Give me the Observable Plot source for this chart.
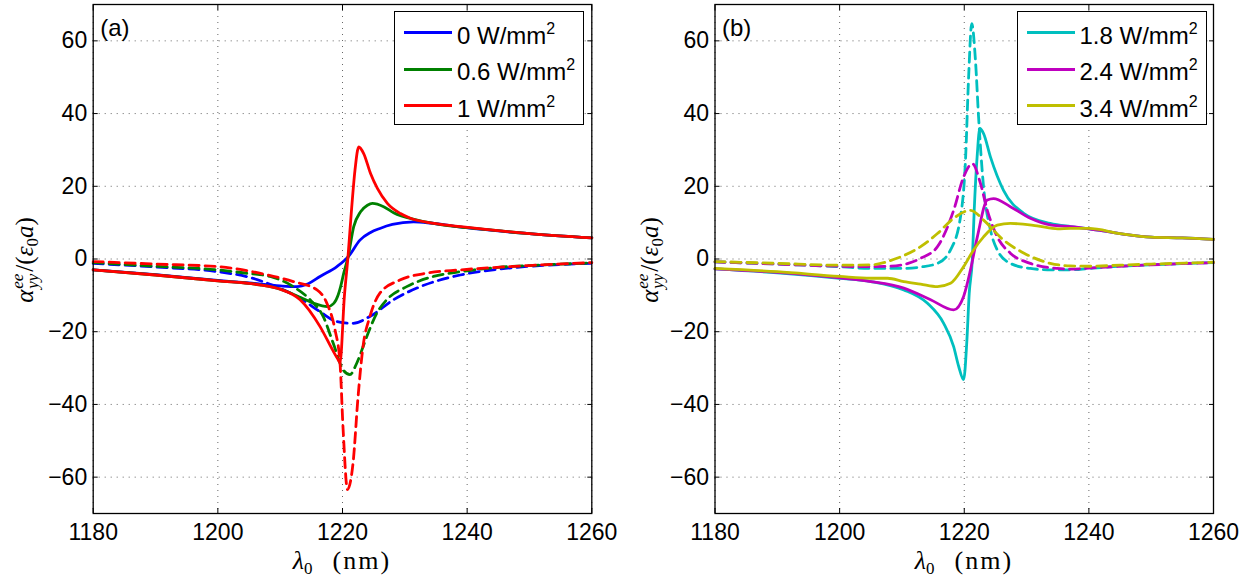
<!DOCTYPE html>
<html><head><meta charset="utf-8">
<script src="https://cdn.jsdelivr.net/npm/d3@7"></script>
<script src="https://cdn.jsdelivr.net/npm/@observablehq/plot@0.6"></script>
<style>
body{margin:0;background:#fff;}
#wrap{position:relative;width:1255px;height:579px;overflow:hidden;background:#fff;font-family:"Liberation Sans",Arial,sans-serif;color:#000;}
.pl{position:absolute;top:0;}
.legend{position:absolute;border:1.3px solid #000;background:#fff;box-sizing:border-box;width:190px;height:114px;top:11px;}
.row{position:absolute;left:0;display:flex;align-items:center;height:30px;}
.sw{display:inline-block;width:48px;height:3px;margin-left:9px;margin-right:5px;}
.lt{font-size:24px;line-height:24px;white-space:nowrap;position:relative;top:3px;}
.lt sup{font-size:16px;vertical-align:10px;line-height:0;}
.xlab{position:absolute;top:552px;font-family:"Liberation Serif",serif;font-size:26px;line-height:18px;transform:translateX(-50%);white-space:nowrap;}
.xlab sub{font-size:17px;line-height:0;vertical-align:-5px;font-style:normal;}
.xlab .gap{display:inline-block;width:20px;}
.xlab .nm{letter-spacing:2px;}
.ylab{position:absolute;font-family:"Liberation Serif",serif;font-size:25px;line-height:25px;transform:translate(-50%,-50%) rotate(-90deg);white-space:nowrap;}
.ylab .ss{display:inline-flex;flex-direction:column;font-size:17px;line-height:15px;vertical-align:10px;margin-left:1px;margin-right:2px;}
.ylab sub{font-size:17px;line-height:0;vertical-align:-5px;}
</style>
</head><body>
<div id="wrap"></div>
<script>
// ---------- axes ----------
const xTicks = [1180, 1200, 1220, 1240, 1260];
const yTicks = [-60, -40, -20, 0, 20, 40, 60];

// ---------- panel (a) ----------
const legendA = ["0", "0.6", "1"];

const a0SolidX = [1180, 1190, 1200, 1205, 1210, 1212.6, 1214.5, 1216.4, 1219.1, 1221, 1222.8, 1224.5, 1226, 1228, 1231.4, 1234, 1238, 1242, 1250, 1260];
const a0SolidY = [-3.0, -4.3, -5.9, -6.6, -7.4, -7.6, -6.8, -4.8, -2.1, 0.8, 5.2, 7.3, 8.4, 9.5, 10.2, 9.9, 9.0, 8.2, 7.0, 5.8];
const a0DashX = [1180, 1190, 1200, 1205, 1209, 1213.2, 1216.4, 1219.1, 1221.7, 1224.4, 1228.2, 1232.5, 1238.9, 1245, 1250, 1260];
const a0DashY = [-1.2, -2.2, -3.5, -5.0, -7.4, -10.8, -14.5, -17.2, -17.7, -15.8, -11.2, -7.6, -4.4, -2.8, -2.0, -1.2];

const a06SolidX = [1180, 1190, 1200, 1206.7, 1210, 1213.3, 1215.4, 1217.6, 1218.6, 1219.3, 1219.7, 1220.2, 1220.9, 1221.8, 1222.9, 1224.0, 1224.8, 1226.6, 1228.2, 1232, 1236, 1240, 1250, 1260];
const a06SolidY = [-3.0, -4.4, -6.0, -7.1, -8.3, -10.6, -12.2, -13.1, -12.2, -9.9, -7.6, -3.9, 0.6, 8.9, 13.0, 14.8, 15.3, 14.4, 12.7, 10.7, 9.4, 8.6, 7.0, 5.8];
const a06DashX = [1180, 1190, 1200, 1205, 1208.4, 1212.1, 1214.8, 1216.9, 1218.5, 1220.1, 1221.2, 1222.3, 1223.9, 1225.5, 1227.1, 1230.3, 1234.6, 1238.9, 1245, 1250, 1260];
const a06DashY = [-1.0, -2.0, -3.0, -4.0, -4.8, -7.6, -11.2, -15.8, -23.1, -30.5, -31.8, -28.6, -21.3, -14.9, -11.2, -7.6, -4.8, -3.5, -2.3, -1.8, -1.1];

const a1SolidX = [1180, 1190, 1200, 1206.7, 1210, 1213.2, 1216.4, 1218.4, 1219.2, 1219.6, 1220.3, 1220.9, 1221.4, 1222.0, 1222.6, 1223.4, 1224.5, 1225.6, 1227.2, 1229.3, 1230.9, 1234.7, 1239, 1250, 1260];
const a1SolidY = [-3.0, -4.4, -6.0, -7.1, -8.3, -11.2, -18.6, -25.0, -27.4, -28.5, -10.3, 1.0, 12.5, 24.4, 30.8, 29.0, 23.5, 19.4, 15.3, 12.5, 11.2, 9.8, 8.9, 7.0, 5.8];
const a1DashX = [1180, 1190, 1200, 1206.7, 1212.1, 1215.9, 1217.5, 1218.8, 1219.6, 1220.1, 1220.8, 1221.7, 1222.5, 1223.3, 1224.4, 1226, 1229.2, 1233.5, 1238.9, 1250, 1260];
const a1DashY = [-0.7, -1.4, -2.1, -3.9, -6.2, -8.5, -12.2, -19.5, -28.6, -46.9, -63.4, -56.0, -37.8, -24.0, -15.8, -9.4, -5.8, -3.9, -3.0, -1.8, -1.0];

// ---------- panel (b) ----------
const legendB = ["1.8", "2.4", "3.4"];

const b18SolidX = [1180, 1190, 1200, 1205, 1210.3, 1214.1, 1216.7, 1218.3, 1219.1, 1219.9, 1220.4, 1220.8, 1221.3, 1221.6, 1222.1, 1222.5, 1223.1, 1224.2, 1226.3, 1229.6, 1233.8, 1237.1, 1240, 1245, 1250, 1255, 1260];
const b18SolidY = [-2.7, -3.8, -5.3, -6.2, -8.5, -12.2, -17.7, -24.1, -29.5, -33.2, -23.1, -9.4, 0.0, 13.4, 29.0, 35.9, 34.5, 28.1, 18.9, 12.5, 9.8, 8.9, 8.3, 7.0, 6.0, 5.8, 5.4];
const b18DashX = [1180, 1190, 1200, 1205, 1210.3, 1213, 1215.7, 1217.8, 1219.4, 1220.2, 1220.7, 1221.2, 1221.8, 1222.3, 1223.1, 1224.2, 1225.3, 1227.4, 1230.6, 1234, 1237, 1240, 1245, 1250, 1260];
const b18DashY = [-0.8, -1.4, -2.1, -2.6, -2.6, -2.2, -1.2, 2.5, 11.6, 27.2, 50.0, 64.7, 54.6, 39.0, 19.8, 8.0, 2.5, -1.2, -2.6, -3.0, -3.0, -2.6, -2.0, -1.6, -1.0];

const b24SolidX = [1180, 1190, 1200, 1205, 1210.3, 1214.6, 1218.3, 1219.9, 1221, 1222.1, 1223.7, 1224.7, 1227.4, 1230.6, 1234, 1237.1, 1240, 1245, 1250, 1255, 1260];
const b24SolidY = [-2.7, -3.7, -5.2, -6.2, -8.0, -11.2, -14.0, -10.3, -3.0, 6.1, 16.2, 16.6, 14.4, 11.2, 9.3, 8.9, 8.3, 7.0, 6.0, 5.8, 5.4];
const b24DashX = [1180, 1190, 1200, 1205, 1208, 1211, 1213, 1215.7, 1218.3, 1219.9, 1221.3, 1222.6, 1223.7, 1225.3, 1227.4, 1230.6, 1234.9, 1237, 1240, 1245, 1250, 1260];
const b24DashY = [-0.8, -1.4, -2.0, -2.1, -2.0, -1.2, 0.2, 3.4, 13.4, 22.6, 26.2, 20.8, 13.4, 6.1, 1.6, -1.2, -2.6, -2.8, -2.5, -2.0, -1.6, -1.0];

const b34SolidX = [1180, 1190, 1200, 1205, 1207.7, 1210.3, 1213, 1215.7, 1217.8, 1219.9, 1221.5, 1223.1, 1225.3, 1227.4, 1231.7, 1235, 1237, 1240, 1245, 1250, 1255, 1260];
const b34SolidY = [-2.6, -3.5, -4.8, -5.3, -5.3, -6.2, -6.9, -7.6, -6.7, -2.1, 2.5, 6.1, 9.3, 9.8, 9.1, 8.3, 8.4, 8.4, 7.0, 6.0, 5.8, 5.4];
const b34DashX = [1180, 1190, 1200, 1205, 1209.2, 1213, 1215.7, 1218.3, 1221, 1223.1, 1226.3, 1229.6, 1233.8, 1237, 1240, 1245, 1250, 1260];
const b34DashY = [-0.7, -1.2, -1.7, -1.6, 0.2, 3.4, 7.0, 11.2, 13.4, 10.7, 5.2, 1.6, -1.2, -1.9, -2.0, -1.7, -1.4, -0.9];

// ---------- styles ----------
const colorsA = ["#0000ff", "#008000", "#ff0000"];
const colorsB = ["#00bfbf", "#bf00bf", "#bfbf00"];
const seriesA = [[a0SolidX, a0SolidY, a0DashX, a0DashY], [a06SolidX, a06SolidY, a06DashX, a06DashY], [a1SolidX, a1SolidY, a1DashX, a1DashY]];
const seriesB = [[b18SolidX, b18SolidY, b18DashX, b18DashY], [b24SolidX, b24SolidY, b24DashX, b24DashY], [b34SolidX, b34SolidY, b34DashX, b34DashY]];

const fmt = d => d < 0 ? "\u2212" + Math.abs(d) : String(d);
const rows = (xs, ys) => xs.map((x, i) => ({x, y: ys[i]}));

function panel(series, colors, tag, width, marginLeft, marginRight) {
  const gridStyle = {stroke: "#000", strokeOpacity: 0.6, strokeWidth: 1, strokeDasharray: "1,5"};
  const lines = [];
  series.forEach((s, i) => {
    lines.push(Plot.line(rows(s[0], s[1]), {x: "x", y: "y", stroke: colors[i], strokeWidth: 2.8, curve: "monotone-x"}));
    lines.push(Plot.line(rows(s[2], s[3]), {x: "x", y: "y", stroke: colors[i], strokeWidth: 2.8, strokeDasharray: "10,6", curve: "monotone-x"}));
  });
  return Plot.plot({
    width, height: 579,
    marginLeft, marginRight, marginTop: 4, marginBottom: 66,
    x: {domain: [1180, 1260]},
    y: {domain: [-70, 70]},
    style: {fontFamily: '"Liberation Sans", Arial, sans-serif', fontSize: "23px", color: "#000", background: "transparent", overflow: "visible"},
    marks: [
      Plot.gridX(xTicks, gridStyle),
      Plot.gridY(yTicks, gridStyle),
      ...lines,
      Plot.axisX(xTicks, {anchor: "bottom", tickSize: 0, tickPadding: 10, tickFormat: fmt, label: null, fontSize: 23}),
      Plot.axisX(xTicks, {anchor: "bottom", tickSize: -5, tickFormat: () => "", label: null}),
      Plot.axisX(xTicks, {anchor: "top", tickSize: -5, tickFormat: () => "", label: null}),
      Plot.axisY(yTicks, {anchor: "left", tickSize: 0, tickPadding: 6, tickFormat: fmt, label: null, fontSize: 23}),
      Plot.axisY(yTicks, {anchor: "left", tickSize: -5, tickFormat: () => "", label: null}),
      Plot.axisY(yTicks, {anchor: "right", tickSize: -5, tickFormat: () => "", label: null}),
      Plot.frame({stroke: "#000", strokeWidth: 1.3}),
      Plot.text([tag], {frameAnchor: "top-left", dx: 7, dy: 14, textAnchor: "start", lineAnchor: "top", fontSize: 24, fill: "#000"})
    ]
  });
}

const wrap = document.getElementById("wrap");

function place(node, left) {
  node.classList.add("pl");
  node.style.left = left + "px";
  wrap.appendChild(node);
}
place(panel(seriesA, colorsA, "(a)", 620, 92.7, 28.7), 0);
place(panel(seriesB, colorsB, "(b)", 635, 94.5, 42), 620);

function legend(labels, colors, left) {
  const box = document.createElement("div");
  box.className = "legend";
  box.style.left = left + "px";
  labels.forEach((lab, i) => {
    const r = document.createElement("div");
    r.className = "row";
    r.style.top = (5.5 + i * 36.5) + "px";
    r.innerHTML = `<span class="sw" style="background:${colors[i]}"></span><span class="lt">${lab} W/mm<sup>2</sup></span>`;
    box.appendChild(r);
  });
  wrap.appendChild(box);
}
legend(legendA, colorsA, 394);
legend(legendB, colorsB, 1016.5);

function xlabel(cx) {
  const d = document.createElement("div");
  d.className = "xlab";
  d.style.left = cx + "px";
  d.innerHTML = `<i>λ</i><sub>0</sub><span class="gap"></span><span class="nm">(nm)</span>`;
  wrap.appendChild(d);
}
xlabel(342);
xlabel(964);

function ylabel(cx) {
  const d = document.createElement("div");
  d.className = "ylab";
  d.style.left = cx + "px";
  d.style.top = "260px";
  d.innerHTML = `<i>α</i><span class="ss"><i>ee</i><i>yy</i></span>/(<i>ε</i><sub>0</sub><i>a</i>)`;
  wrap.appendChild(d);
}
ylabel(25);
ylabel(650);
</script>
</body></html>
